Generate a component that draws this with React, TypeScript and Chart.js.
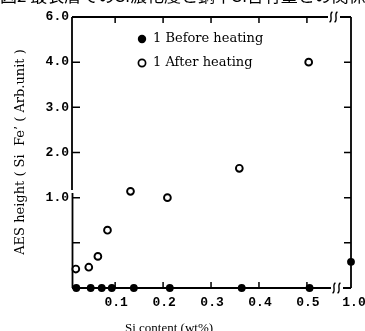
import React, { useEffect, useRef } from 'react';
import { Chart, ScatterController, PointElement, LinearScale } from 'chart.js';

// ---- data ----
const beforeSi = [0.019, 0.049, 0.072, 0.093, 0.139, 0.214, 0.364, 0.53, 1.0];
const beforeAES = [0, 0, 0, 0, 0, 0, 0, 0, 0.29];
const afterSi = [0.018, 0.045, 0.064, 0.084, 0.132, 0.209, 0.359, 0.52];
const afterAES = [0.21, 0.23, 0.35, 0.64, 1.14, 1.0, 1.65, 4.0];

const yTickValues = [0.5, 1, 2, 3, 4, 6];
const yTickLabels = ['', '1.0', '2.0', '3.0', '4.0', '6.0'];
const xTickValues = [0.1, 0.2, 0.3, 0.4, 0.5, 1.0];
const xTickLabels = ['0.1', '0.2', '0.3', '0.4', '0.5', '1.0'];

const legendLabels = ['1 Before heating', '1 After heating'];
const xTitle = 'Si content (wt%)';
const yTitle = 'AES height ( Si  Fe\u2019 ( Arb.unit )';
const caption = '図2 最表層でのSi濃化度と鋼中Si含有量との関係';

// piecewise (broken) axis knots: value -> fraction of axis length
const yKnotValues = [0, 0.5, 1, 2, 3, 4, 6];
const xKnotValues = [0.01, 0.5, 1.0];
const KNOTS: Record<string, { values: number[]; positions: number[] }> = {
  y: { values: yKnotValues, positions: [0, 1 / 6, 2 / 6, 3 / 6, 4 / 6, 5 / 6, 1] },
  x: { values: xKnotValues, positions: [0, 0.842, 1] },
};

function interp(v: number, xs: number[], ys: number[]) {
  const n = xs.length;
  let i = 0;
  if (v <= xs[0]) i = 0;
  else if (v >= xs[n - 1]) i = n - 2;
  else {
    while (i < n - 2 && v > xs[i + 1]) i++;
  }
  return ys[i] + ((v - xs[i]) * (ys[i + 1] - ys[i])) / (xs[i + 1] - xs[i]);
}

class PiecewiseScale extends LinearScale {
  static id = 'piecewise';
  static defaults = {};
  getPixelForValue(value: any) {
    if (value === null || value === undefined || isNaN(value)) return NaN;
    const k = KNOTS[(this as any).id];
    return (this as any).getPixelForDecimal(interp(value, k.values, k.positions));
  }
  getValueForPixel(pixel: number) {
    const k = KNOTS[(this as any).id];
    return interp((this as any).getDecimalForPixel(pixel), k.positions, k.values);
  }
  buildTicks() {
    return KNOTS[(this as any).id].values.map((v) => ({ value: v }));
  }
}

Chart.register(ScatterController, PointElement, LinearScale, PiecewiseScale as any);

function breakMark(ctx: CanvasRenderingContext2D, cx: number, cy: number) {
  ctx.beginPath();
  ctx.moveTo(cx + 1.5, cy - 5);
  ctx.bezierCurveTo(cx - 2.5, cy - 4, cx + 2.5, cy + 4, cx - 1.5, cy + 5);
  ctx.stroke();
}

const framePlugin = {
  id: 'frame',
  beforeDatasetsDraw(chart: any) {
    const ctx: CanvasRenderingContext2D = chart.ctx;
    const xs = chart.scales.x;
    const ys = chart.scales.y;
    const L = xs.left, R = xs.right, T = ys.top, B = ys.bottom;
    ctx.save();
    ctx.strokeStyle = '#000';
    ctx.fillStyle = '#000';
    ctx.lineWidth = 1.8;
    ctx.lineCap = 'butt';
    // left axis (small gap)
    ctx.beginPath();
    ctx.moveTo(L, T); ctx.lineTo(L, 190);
    ctx.moveTo(L + 0.5, 193); ctx.lineTo(L + 0.5, B);
    // right axis
    ctx.moveTo(R, T); ctx.lineTo(R, B);
    // top axis with break
    ctx.moveTo(L, T); ctx.lineTo(328, T);
    ctx.moveTo(340, T); ctx.lineTo(R, T);
    // bottom axis with break
    ctx.moveTo(L, B); ctx.lineTo(331, B);
    ctx.moveTo(343, B); ctx.lineTo(R, B);
    ctx.stroke();
    ctx.lineWidth = 1.4;
    breakMark(ctx, 331, T);
    breakMark(ctx, 336, T);
    breakMark(ctx, 334, B);
    breakMark(ctx, 339, B);

    ctx.lineWidth = 1.5;
    ctx.beginPath();
    yTickValues.forEach((v) => {
      if (v >= 6) return;
      const y = ys.getPixelForValue(v);
      ctx.moveTo(L, y); ctx.lineTo(L + 8, y);
      ctx.moveTo(R, y); ctx.lineTo(R - 7, y);
    });
    xTickValues.forEach((v) => {
      if (v >= 1) return;
      const x = xs.getPixelForValue(v);
      ctx.moveTo(x, B); ctx.lineTo(x, B - 6);
      ctx.moveTo(x, T); ctx.lineTo(x, T + 6);
    });
    ctx.stroke();

    // tick labels
    ctx.font = 'bold 13px "Liberation Mono"';
    ctx.textAlign = 'right';
    ctx.textBaseline = 'middle';
    yTickValues.forEach((v, i) => {
      if (yTickLabels[i]) ctx.fillText(yTickLabels[i], L - 3, ys.getPixelForValue(v));
    });
    ctx.textAlign = 'center';
    xTickValues.forEach((v, i) => {
      ctx.fillText(xTickLabels[i], xs.getPixelForValue(v) + (v >= 1 ? 3 : 1), B + 15);
    });

    // axis titles
    ctx.font = '13px "Liberation Serif"';
    ctx.fillText(xTitle, 169, 329);
    ctx.save();
    ctx.translate(21, 152);
    ctx.rotate(-Math.PI / 2);
    ctx.font = '13px "DejaVu Serif"';
    ctx.fillText(yTitle, 0, 0);
    ctx.restore();

    // legend
    ctx.font = '13px "DejaVu Serif"';
    ctx.textAlign = 'left';
    ctx.beginPath();
    ctx.arc(142, 39, 4.2, 0, Math.PI * 2);
    ctx.fill();
    ctx.fillText(legendLabels[0], 153, 39);
    ctx.lineWidth = 1.7;
    ctx.beginPath();
    ctx.arc(142, 63, 3.6, 0, Math.PI * 2);
    ctx.stroke();
    ctx.fillText(legendLabels[1], 153, 63);
    ctx.restore();
  },
};

export default function App() {
  const ref = useRef<HTMLCanvasElement>(null);
  useEffect(() => {
    if (!ref.current) return;
    const chart = new Chart(ref.current, {
      type: 'scatter',
      data: {
        datasets: [
          {
            data: beforeSi.map((x, i) => ({ x, y: beforeAES[i] })),
            pointRadius: 3.9,
            pointBackgroundColor: '#000',
            pointBorderColor: '#000',
            pointBorderWidth: 0,
            clip: false,
          } as any,
          {
            data: afterSi.map((x, i) => ({ x, y: afterAES[i] })),
            pointRadius: 3.4,
            pointBackgroundColor: '#fff',
            pointBorderColor: '#000',
            pointBorderWidth: 1.9,
            clip: false,
          } as any,
        ],
      },
      options: {
        animation: false,
        responsive: false,
        devicePixelRatio: 1,
        layout: { padding: { left: 72, right: 14, top: 17, bottom: 43 } },
        scales: {
          x: { type: 'piecewise' as any, display: false, min: 0.01, max: 1.0 },
          y: { type: 'piecewise' as any, display: false, min: 0, max: 6 },
        },
        plugins: { legend: { display: false }, tooltip: { enabled: false } },
        events: [],
      },
      plugins: [framePlugin],
    });
    return () => chart.destroy();
  }, []);
  return (
    <div style={{ position: 'absolute', left: 0, top: 0, width: 365, height: 331, overflow: 'hidden', background: '#fff' }}>
      <canvas ref={ref} width={365} height={331} style={{ display: 'block', width: 365, height: 331 }} />
      <div
        style={{
          position: 'absolute',
          left: 0,
          top: -14,
          fontFamily: '"Noto Sans CJK JP"',
          fontSize: 17,
          lineHeight: '17px',
          whiteSpace: 'nowrap',
          color: '#000',
        }}
      >
        {caption}
      </div>
    </div>
  );
}
